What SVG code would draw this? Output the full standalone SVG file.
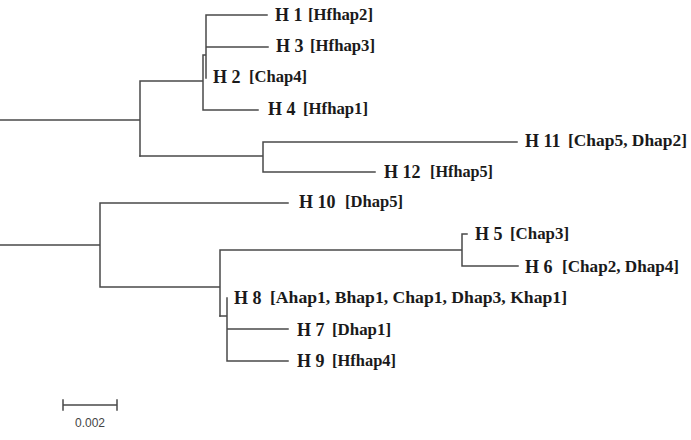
<svg xmlns="http://www.w3.org/2000/svg" width="691" height="440" viewBox="0 0 691 440">
<style>
.br{fill:none;stroke:#4a4a4a;stroke-width:1.5;stroke-linecap:square}
.h{font-family:"Liberation Serif","Times New Roman",serif;font-weight:bold;font-size:18px;fill:#1a1a1a}
.l{font-family:"Liberation Serif","Times New Roman",serif;font-weight:bold;font-size:16px;fill:#1a1a1a}
.s{font-family:"Liberation Sans",Arial,sans-serif;font-size:12px;fill:#444}
</style>
<rect width="691" height="440" fill="#fff"/>
<g id="connectors" class="br">
<path d="M0 120H140M140 81V156M140 81H203M203 55V110M203 55H206M206 15V78M206 15H267M206 47H268M203 110H258"/>
<path d="M140 156H263M263 142V172M263 142H517M263 172H375"/>
<path d="M0 245H100M100 203V287M100 203H288M100 287H220M220 250V316M220 250H462M462 234V266M462 234H467M462 266H518"/>
<path d="M220 316H227M227 298V361M227 329H288M227 361H288"/>
</g>
<g id="H1"><text class="h" x="275" y="21">H 1</text><text class="l" x="308" y="20" textLength="65" lengthAdjust="spacingAndGlyphs">[Hfhap2]</text></g>
<g id="H3"><text class="h" x="276" y="52">H 3</text><text class="l" x="310" y="51" textLength="65" lengthAdjust="spacingAndGlyphs">[Hfhap3]</text></g>
<g id="H2"><text class="h" x="213" y="83">H 2</text><text class="l" x="249" y="82" textLength="58" lengthAdjust="spacingAndGlyphs">[Chap4]</text></g>
<g id="H4"><text class="h" x="268" y="115">H 4</text><text class="l" x="303" y="114" textLength="65" lengthAdjust="spacingAndGlyphs">[Hfhap1]</text></g>
<g id="H11"><text class="h" x="525" y="147">H 11</text><text class="l" x="568" y="146" textLength="119" lengthAdjust="spacingAndGlyphs">[Chap5, Dhap2]</text></g>
<g id="H12"><text class="h" x="384" y="178">H 12</text><text class="l" x="430" y="177" textLength="63" lengthAdjust="spacingAndGlyphs">[Hfhap5]</text></g>
<g id="H10"><text class="h" x="299" y="208">H 10</text><text class="l" x="345" y="207" textLength="58" lengthAdjust="spacingAndGlyphs">[Dhap5]</text></g>
<g id="H5"><text class="h" x="475" y="240">H 5</text><text class="l" x="510" y="239" textLength="59" lengthAdjust="spacingAndGlyphs">[Chap3]</text></g>
<g id="H6"><text class="h" x="525" y="273">H 6</text><text class="l" x="562" y="272" textLength="117" lengthAdjust="spacingAndGlyphs">[Chap2, Dhap4]</text></g>
<g id="H8"><text class="h" x="234" y="304">H 8</text><text class="l" x="270" y="303" textLength="297" lengthAdjust="spacingAndGlyphs">[Ahap1, Bhap1, Chap1, Dhap3, Khap1]</text></g>
<g id="H7"><text class="h" x="297" y="336">H 7</text><text class="l" x="332" y="335" textLength="59" lengthAdjust="spacingAndGlyphs">[Dhap1]</text></g>
<g id="H9"><text class="h" x="297" y="367">H 9</text><text class="l" x="332" y="366" textLength="64" lengthAdjust="spacingAndGlyphs">[Hfhap4]</text></g>
<g id="scale">
<path class="br" d="M63 405H117M63 400V410M117 400V410"/>
<text class="s" x="90" y="427" text-anchor="middle">0.002</text>
</g>
</svg>
